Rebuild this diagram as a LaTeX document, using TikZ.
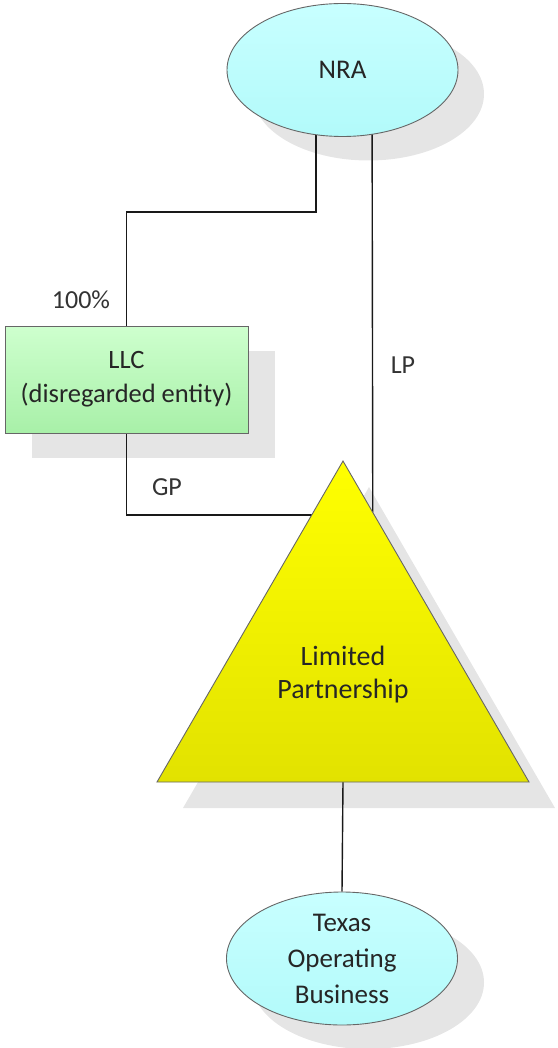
\documentclass[tikz,border=0pt]{standalone}
\usepackage{fontspec}
\setmainfont{Carlito}
\usepackage{xcolor}
\usepackage{tikz}
\usetikzlibrary{shapes,calc}
\definecolor{cyantop}{RGB}{200,255,255}
\definecolor{cyanbot}{RGB}{178,250,250}
\definecolor{greentop}{RGB}{206,255,206}
\definecolor{greenbot}{RGB}{168,240,168}
\definecolor{yellowtop}{RGB}{255,255,0}
\definecolor{yellowbot}{RGB}{226,226,0}
\definecolor{shadowgray}{RGB}{229,229,229}
\pgfdeclarelayer{shadowlayer}
\pgfdeclarelayer{linelayer}
\pgfsetlayers{shadowlayer,linelayer,main}

\tikzset{
  entity/.style={draw=black!60, line width=0.9pt, inner sep=0pt, align=center, text=black!85},
  ellbox/.style={entity, ellipse, minimum width=231pt, minimum height=133pt, top color=cyantop, bottom color=cyanbot},
  rectbox/.style={entity, rectangle, minimum width=243pt, minimum height=107pt, top color=greentop, bottom color=greenbot},
  wire/.style={draw=black!90, line width=1.4pt},
  tag/.style={inner sep=0pt, text=black!80, font=\fontsize{26}{32}\selectfont}
}

\begin{document}
\begin{tikzpicture}[x=1pt, y=-1pt, font=\fontsize{27}{34}\selectfont]
\useasboundingbox (0,0) rectangle (557,1048);

% NRA ellipse at the top
\node[ellbox] (nra) at (342.5,70) {NRA};

% LLC box
\node[rectbox, font=\fontsize{26.5}{34}\selectfont] (llc) at (126.5,379.5) {LLC\\(disregarded entity)};

% Limited partnership triangle
\coordinate (lpapex) at (343,461);
\coordinate (lpleft) at (157,782);
\coordinate (lpright) at (529,782);
\shade[top color=yellowtop, bottom color=yellowbot, draw=black!60, line width=0.9pt] (lpapex) -- (lpleft) -- (lpright) -- cycle;
\node[align=center, text=black!85, font=\fontsize{28}{33}\selectfont] (lp) at (343,675) {Limited\\Partnership};

% Texas operating business
\node[ellbox, font=\fontsize{27}{36}\selectfont] (tob) at (342,958.5) {Texas\\Operating\\Business};

% shadows
\begin{pgfonlayer}{shadowlayer}
\fill[shadowgray] ([shift={(26,24)}]nra.center) ellipse[x radius=115.5, y radius=66.5];
\fill[shadowgray] ([shift={(27,25)}]llc.south west) rectangle ([shift={(27,25)}]llc.north east);
\fill[shadowgray] ([shift={(26,26)}]lpapex) -- ([shift={(26,26)}]lpleft) -- ([shift={(26,26)}]lpright) -- cycle;
\fill[shadowgray] ([shift={(26,24)}]tob.center) ellipse[x radius=116, y radius=66.5];
\end{pgfonlayer}

% ownership lines
\begin{pgfonlayer}{linelayer}
\draw[wire] ([xshift=-26.5pt]nra.center) -- ++(0,142) -| (llc.north);
\draw[wire] ([xshift=29.5pt]nra.center) -- ($(lpapex)!0.16!(lpright)$);
\draw[wire] (llc.south) |- ($(lpapex)!0.168!(lpleft)$);
\draw[wire] ($(lpleft)!0.5!(lpright)$) -- (tob.north);
\end{pgfonlayer}

% labels
\node[tag] (pct) at (81,300) {100\%};
\node[tag] (lptag) at (403,365) {LP};
\node[tag] (gptag) at (167,487) {GP};
\end{tikzpicture}
\end{document}
